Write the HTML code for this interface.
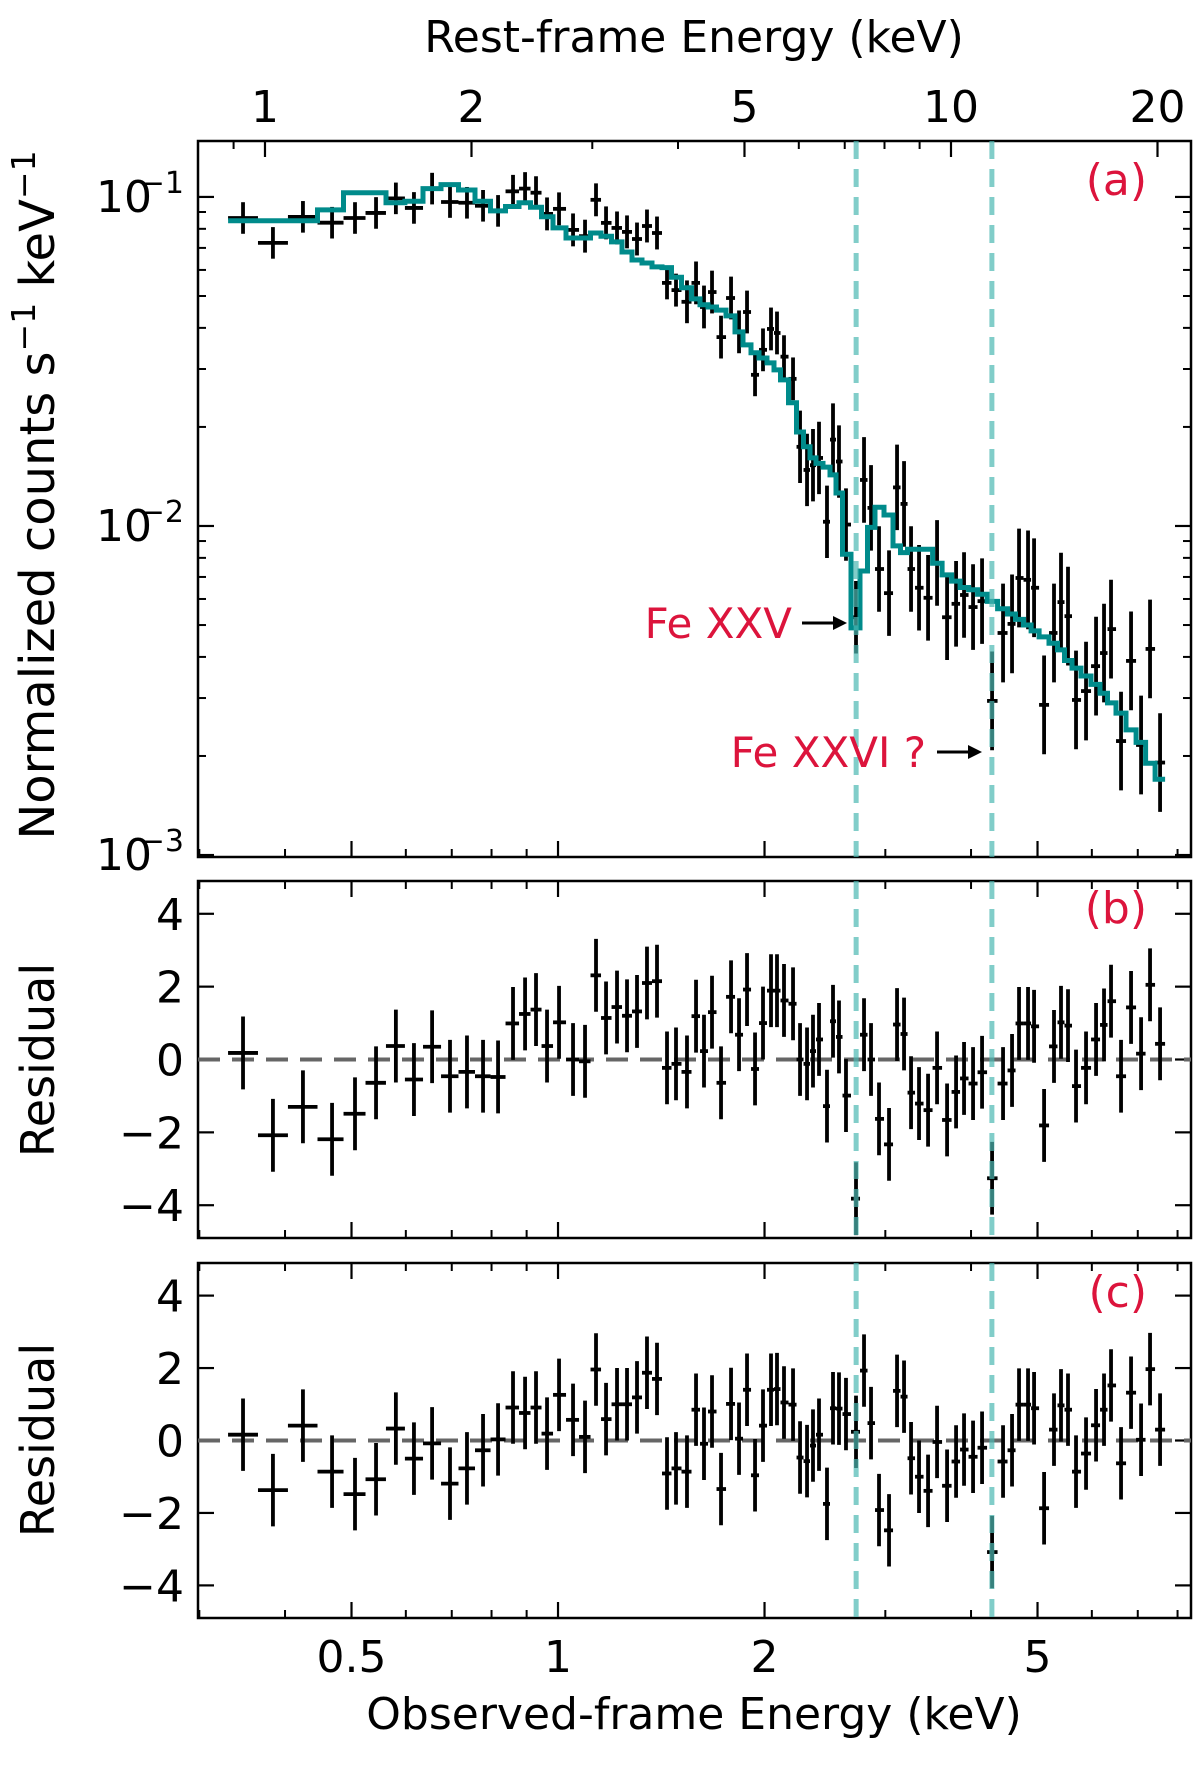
<!DOCTYPE html>
<html><head><meta charset="utf-8"><title>X-ray spectrum</title>
<style>
html,body{margin:0;padding:0;background:#fff;}
svg{display:block;font-family:"DejaVu Sans","Liberation Sans",sans-serif;}
</style></head>
<body>
<svg id="chart" width="1200" height="1768" viewBox="0 0 1200 1768" xmlns="http://www.w3.org/2000/svg">
  <text x="694" y="52" font-size="44" text-anchor="middle">Rest-frame Energy (keV)</text>
  <text x="694" y="1729" font-size="44" text-anchor="middle">Observed-frame Energy (keV)</text>
  <text transform="translate(54,495) rotate(-90)" font-size="48" text-anchor="middle">Normalized counts s<tspan baseline-shift="super" font-size="33">−1</tspan> keV<tspan baseline-shift="super" font-size="33">−1</tspan></text>
  <text transform="translate(54,1060) rotate(-90)" font-size="46" text-anchor="middle">Residual</text>
  <text transform="translate(54,1440) rotate(-90)" font-size="46" text-anchor="middle">Residual</text>
  <g id="layer"></g>
  <text x="1147" y="195" font-size="44" fill="#dc143c" text-anchor="end">(a)</text>
  <text x="1147" y="923" font-size="44" fill="#dc143c" text-anchor="end">(b)</text>
  <text x="1147" y="1307" font-size="44" fill="#dc143c" text-anchor="end">(c)</text>
  <text x="792" y="638" font-size="42" fill="#dc143c" text-anchor="end">Fe XXV</text>
  <text x="926" y="767" font-size="42" fill="#dc143c" text-anchor="end">Fe XXVI ?</text>
  <g><line x1="802" y1="623" x2="836" y2="623" stroke="#000" stroke-width="3"/><polygon points="847,623 833,616 833,630" fill="#000"/></g>
  <g><line x1="937" y1="752" x2="971" y2="752" stroke="#000" stroke-width="3"/><polygon points="982,752 968,745 968,759" fill="#000"/></g>
</svg>
<script>
const energies=[0.3474,0.3841,0.4248,0.4684,0.5059,0.5429,0.5803,0.6166,0.6553,0.6959,0.7367,0.7775,0.8177,0.8598,0.8953,0.9288,0.9638,1.0034,1.0517,1.0949,1.1360,1.1749,1.2190,1.2606,1.3036,1.3480,1.3941,1.4417,1.4859,1.5417,1.5892,1.6323,1.6768,1.7283,1.7874,1.8359,1.8859,1.9373,1.9898,2.0440,2.0855,2.1351,2.2008,2.2532,2.3067,2.3533,2.4013,2.4665,2.5168,2.5679,2.6289,2.7188,2.7930,2.8594,2.9371,3.0375,3.1203,3.1945,3.2705,3.3593,3.4627,3.5688,3.6909,3.8040,3.9072,4.0272,4.1508,4.2927,4.4537,4.5902,4.6993,4.8434,4.9424,5.1114,5.2845,5.4101,5.5387,5.6898,5.8843,6.0855,6.2506,6.3993,6.6179,6.8441,7.0781,7.2946,7.5442];
const flux=[0.0863,0.0725,0.087,0.0835,0.0863,0.0894,0.099,0.0926,0.106,0.0965,0.096,0.094,0.0907,0.104,0.106,0.103,0.0888,0.092,0.0794,0.076,0.098,0.0834,0.0805,0.0783,0.0745,0.0816,0.0777,0.0548,0.0521,0.0480,0.0548,0.0463,0.0514,0.0375,0.0493,0.0389,0.0447,0.0288,0.0343,0.0397,0.0386,0.0327,0.0280,0.0174,0.0148,0.0153,0.0161,0.0103,0.0183,0.0157,0.0101,0.00528,0.0138,0.01135,0.0074,0.00625,0.0131,0.01167,0.0074,0.00649,0.00605,0.00772,0.00528,0.0058,0.00617,0.00567,0.00591,0.00294,0.00473,0.00504,0.00695,0.00686,0.00649,0.00286,0.00473,0.00587,0.00532,0.00296,0.00315,0.00375,0.00411,0.00486,0.00222,0.00389,0.00216,0.00423,0.00191];
const fluxErrDex=[0.048,0.048,0.048,0.048,0.048,0.048,0.048,0.048,0.048,0.048,0.048,0.048,0.048,0.05,0.05,0.05,0.05,0.05,0.05,0.05,0.05,0.05,0.05,0.05,0.05,0.05,0.05,0.05,0.05,0.065,0.065,0.065,0.065,0.065,0.065,0.065,0.065,0.065,0.065,0.065,0.065,0.065,0.065,0.11,0.11,0.11,0.11,0.11,0.11,0.11,0.11,0.11,0.13,0.13,0.13,0.13,0.13,0.13,0.13,0.13,0.13,0.13,0.13,0.13,0.13,0.13,0.13,0.15,0.15,0.15,0.15,0.15,0.15,0.15,0.15,0.15,0.15,0.15,0.15,0.15,0.15,0.15,0.15,0.15,0.15,0.15,0.15];
const model=[0.0847,0.0847,0.0847,0.0913,0.103,0.103,0.096,0.097,0.106,0.109,0.105,0.097,0.0907,0.0935,0.096,0.093,0.087,0.0805,0.075,0.075,0.0777,0.076,0.073,0.068,0.0643,0.063,0.0613,0.061,0.057,0.053,0.049,0.047,0.0463,0.0453,0.0435,0.0389,0.0355,0.0336,0.0324,0.0313,0.0298,0.0278,0.0237,0.0193,0.0174,0.0161,0.0155,0.0151,0.0143,0.0126,0.0082,0.0049,0.0073,0.0099,0.0114,0.0108,0.0087,0.0083,0.0085,0.0085,0.0085,0.0077,0.0071,0.0068,0.0065,0.0064,0.0062,0.0059,0.0056,0.0054,0.0052,0.005,0.0048,0.0046,0.0044,0.0042,0.0039,0.0037,0.0035,0.0033,0.0031,0.0029,0.0027,0.0024,0.0022,0.0019,0.0017];
const residB=[0.18,-2.08,-1.3,-2.19,-1.49,-0.64,0.37,-0.55,0.35,-0.46,-0.34,-0.46,-0.48,0.99,1.25,1.37,0.37,1.02,0.0,-0.05,2.31,1.14,1.44,1.2,1.32,2.1,2.15,-0.23,-0.12,-0.34,1.19,0.23,1.3,-0.64,1.72,0.68,1.92,-0.26,1.0,1.89,1.89,1.62,1.53,0.0,-0.12,0.23,0.55,-1.28,1.05,0.62,-0.99,-3.82,0.68,0.0,-1.63,-2.33,0.96,0.70,-0.91,-1.21,-1.39,-0.23,-1.66,-0.89,-0.52,-0.66,-0.35,-3.26,-0.66,-0.3,0.99,0.99,0.91,-1.81,0.36,1.02,0.93,-0.73,-0.23,0.55,0.95,1.6,-0.46,1.43,0.16,2.05,0.43];
const residC=[0.16,-1.37,0.41,-0.86,-1.48,-1.07,0.33,-0.5,-0.08,-1.19,-0.77,-0.27,0.03,0.91,0.76,0.91,0.19,1.26,0.57,0.1,1.96,0.59,1.0,1.0,1.19,1.87,1.7,-0.91,-0.77,-0.86,0.85,-0.09,0.8,-1.34,1.01,0.05,1.4,-0.96,0.41,1.4,1.42,1.05,0.99,-0.47,-0.57,-0.14,0.16,-1.75,0.89,0.88,0.73,0.24,1.93,0.48,-1.92,-2.48,1.37,1.21,-0.49,-1.0,-1.39,-0.04,-1.25,-0.58,-0.25,-0.45,-0.2,-3.08,-0.58,-0.27,0.99,0.99,0.89,-1.87,0.3,0.97,0.85,-0.86,-0.36,0.42,0.85,1.52,-0.63,1.32,0.02,1.97,0.3];
const lineEnergies=[2.72,4.29];
const bottomTicks=[0.5,1,2,5];
const bottomTickLabels=["0.5","1","2","5"];
const bottomMinor=[0.3,0.4,0.6,0.7,0.8,0.9,3,4,6,7,8];
const topTicks=[1,2,5,10,20];
const topTickLabels=["1","2","5","10","20"];
const topMinor=[0.9,3,4,6,7,8,9];
const restFactor=2.674;
const residTicks=[4,2,0,-2,-4];
const residTickLabels=["4","2","0","−2","−4"];
const fluxDecades=[-1,-2,-3];

const NS="http://www.w3.org/2000/svg";
const layer=document.getElementById('layer');
const XL=198,XR=1191,LMIN=-0.5248,LMAX=0.9227;
function xE(e){return XL+(Math.log10(e)-LMIN)/(LMAX-LMIN)*(XR-XL);}
const PA={top:141,bot:857},PB={top:881,bot:1238},PC={top:1263,bot:1618};
const YA0=-3.006,YA1=-0.830;
function yA(v){return PA.bot-(Math.log10(v)-YA0)/(YA1-YA0)*(PA.bot-PA.top);}
function yR(p,v){return p.bot-(v+4.9)/9.8*(p.bot-p.top);}
function mk(tag,attrs,parent){const el=document.createElementNS(NS,tag);for(const k in attrs)el.setAttribute(k,attrs[k]);(parent||layer).appendChild(el);return el;}
function line(x1,y1,x2,y2,parent,sw,col){return mk('line',{x1:x1,y1:y1,x2:x2,y2:y2,stroke:col||'#000','stroke-width':sw||2.5},parent);}

const edges=[];
for(let i=0;i<energies.length;i++){
  const lx=Math.log10(energies[i]);
  const lprev=i>0?Math.log10(energies[i-1]):null,lnext=i<energies.length-1?Math.log10(energies[i+1]):null;
  const lo=lprev!==null?(lx+lprev)/2:lx-(lnext-lx)/2;
  const hi=lnext!==null?(lx+lnext)/2:lx+(lx-lprev)/2;
  edges.push([Math.pow(10,lo),Math.pow(10,hi)]);
}

const defs=mk('defs',{});
[['clipA',PA],['clipB',PB],['clipC',PC]].forEach(([id,p])=>{const c=mk('clipPath',{id:id},defs);mk('rect',{x:XL,y:p.top,width:XR-XL,height:p.bot-p.top},c);});

function panelFrame(p,name){
  const g=mk('g',{});
  
  
  bottomTicks.forEach(t=>{const x=xE(t);line(x,p.bot,x,p.bot-16,g,2.2);line(x,p.top,x,p.top+16,g,2.2);});
  bottomMinor.forEach(t=>{const x=xE(t);line(x,p.bot,x,p.bot-8,g,2);line(x,p.top,x,p.top+8,g,2);});
  return g;
}

const gA=mk('g',{});


bottomTicks.forEach(t=>{const x=xE(t);line(x,PA.bot,x,PA.bot-16,gA,2.2);});
bottomMinor.forEach(t=>{const x=xE(t);line(x,PA.bot,x,PA.bot-8,gA,2);});
topTicks.forEach((t,i)=>{const x=xE(t/restFactor);line(x,PA.top,x,PA.top+16,gA,2.2);
  const tx=mk('text',{x:x,y:122,'font-size':44,'text-anchor':'middle'});
  
  
  tx.textContent=topTickLabels[i];});
topMinor.forEach(t=>{const x=xE(t/restFactor);if(x>XL)line(x,PA.top,x,PA.top+8,gA,2);});
fluxDecades.forEach(d=>{const y=yA(Math.pow(10,d));line(XL,y,XL+16,y,gA,2.2);line(XR,y,XR-16,y,gA,2.2);
  const t=mk('text',{x:152,y:y+15,'font-size':44,'text-anchor':'end'});
  
  
  t.textContent='10';
  const s=mk('tspan',{x:184,y:y-4,'font-size':30,'text-anchor':'end'},t);s.textContent='−'+(-d);
  for(let m=2;m<=9;m++){const v=m*Math.pow(10,d);const yy=yA(v);if(yy>PA.top&&yy<PA.bot){line(XL,yy,XL+8,yy,gA,2);line(XR,yy,XR-8,yy,gA,2);}}
});
const dA=mk('g',{'clip-path':'url(#clipA)'});


flux.forEach((v,i)=>{
  const x=xE(energies[i]),y=yA(v);
  const g=mk('g',{},dA);
  
  
  line(xE(edges[i][0]),y,xE(edges[i][1]),y,g,3.8);
  line(x,yA(v*Math.pow(10,fluxErrDex[i])),x,yA(v/Math.pow(10,fluxErrDex[i])),g,3.8);
});
let dpath='';
model.forEach((m,i)=>{const y=yA(m);const x0=xE(edges[i][0]),x1=xE(edges[i][1]);dpath+=(i===0?'M':'L')+x0.toFixed(1)+','+y.toFixed(1)+'L'+x1.toFixed(1)+','+y.toFixed(1);});
const mp=mk('path',{d:dpath,fill:'none',stroke:'#008b8b','stroke-width':5,'stroke-linejoin':'miter'},dA);


lineEnergies.forEach(e=>{const x=xE(e);const l=line(x,PA.top,x,PA.bot,dA,5,'#4db8b3');l.setAttribute('stroke-dasharray','18 10');l.setAttribute('opacity','0.7');
  
  });
mk('rect',{x:XL,y:PA.top,width:XR-XL,height:PA.bot-PA.top,fill:'none',stroke:'#000','stroke-width':2.5},gA);

function residPanel(p,vals,name,clip){
  const g=panelFrame(p,name);
  residTicks.forEach((t,i)=>{const y=yR(p,t);line(XL,y,XL+16,y,g,2.2);line(XR,y,XR-16,y,g,2.2);
    const tx=mk('text',{x:184,y:y+16,'font-size':44,'text-anchor':'end'});
    
    
    tx.textContent=residTickLabels[i];});
  const d=mk('g',{'clip-path':'url(#'+clip+')'});
  
  
  const z=line(XL,yR(p,0),XR,yR(p,0),d,4,'#666');z.setAttribute('stroke-dasharray','22 12');
  
  
  vals.forEach((v,i)=>{const x=xE(energies[i]),y=yR(p,v);
    const gg=mk('g',{},d);
    
    
    line(xE(edges[i][0]),y,xE(edges[i][1]),y,gg,3.8);
    line(x,yR(p,v+1),x,yR(p,v-1),gg,3.8);});
  lineEnergies.forEach(e=>{const x=xE(e);const l=line(x,p.top,x,p.bot,d,5,'#4db8b3');l.setAttribute('stroke-dasharray','18 10');l.setAttribute('opacity','0.7');
    
    });
  mk('rect',{x:XL,y:p.top,width:XR-XL,height:p.bot-p.top,fill:'none',stroke:'#000','stroke-width':2.5},g);
}
residPanel(PB,residB,'panel-b','clipB');
residPanel(PC,residC,'panel-c','clipC');
bottomTicks.forEach((t,i)=>{const tx=mk('text',{x:xE(t),y:1672,'font-size':44,'text-anchor':'middle'});
  
  
  tx.textContent=bottomTickLabels[i];});
</script>
</body></html>
